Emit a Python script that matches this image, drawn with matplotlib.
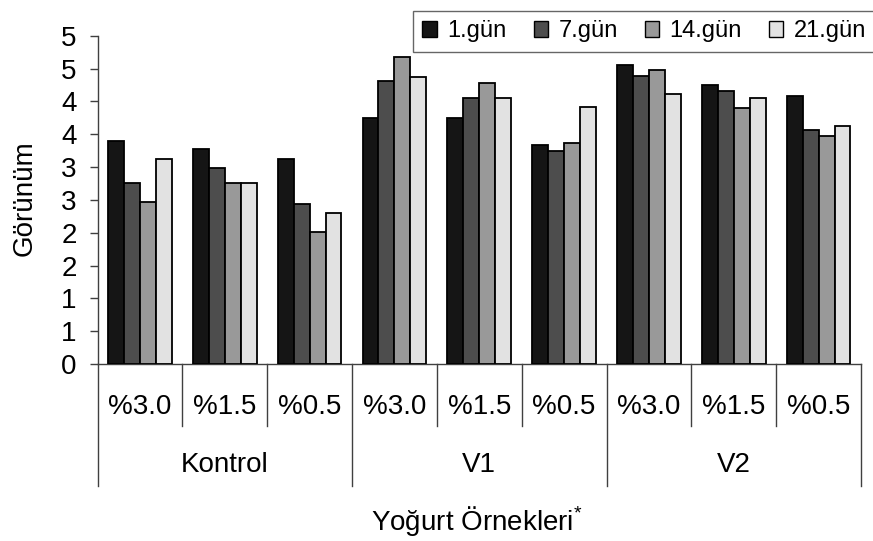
import matplotlib
matplotlib.use("Agg")
import matplotlib.pyplot as plt
from matplotlib.patches import Patch
from matplotlib.lines import Line2D
from matplotlib.ticker import FuncFormatter, MultipleLocator
import numpy as np

plt.rcParams['font.family'] = ['Liberation Sans', 'DejaVu Sans']
plt.rcParams['mathtext.fontset'] = 'custom'
plt.rcParams['mathtext.rm'] = 'Liberation Sans'

# Data
groups = ["Kontrol", "V1", "V2"]
fat_levels = ["%3.0", "%1.5", "%0.5"]
days = ["1.gün", "7.gün", "14.gün", "21.gün"]
gun1 = [3.39, 3.28, 3.12, 3.74, 3.74, 3.34, 4.55, 4.25, 4.08]
gun7 = [2.76, 2.99, 2.44, 4.31, 4.05, 3.25, 4.38, 4.16, 3.57]
gun14 = [2.47, 2.76, 2.01, 4.67, 4.28, 3.37, 4.47, 3.90, 3.47]
gun21 = [3.12, 2.76, 2.30, 4.37, 4.05, 3.92, 4.11, 4.05, 3.63]
series = [gun1, gun7, gun14, gun21]

fills = ["#151515", "#4d4d4d", "#999999", "#e2e2e2"]
line_col = "#404040"
FS = 20

W, H = 873, 541
fig = plt.figure(figsize=(W / 100, H / 100), dpi=100)
ax_l, ax_r, ax_t, ax_b = 97.5, 861, 35.7, 364
ax = fig.add_axes([ax_l / W, 1 - ax_b / H, (ax_r - ax_l) / W, (ax_b - ax_t) / H])

n_cat = len(groups) * len(fat_levels)
x = np.arange(n_cat)
bw = 0.188
for i, (vals, c) in enumerate(zip(series, fills)):
    ax.bar(x + (i - 1.5) * bw, vals, width=bw, color=c, edgecolor="black",
           linewidth=1.3, zorder=3)

ax.set_xlim(-0.5, n_cat - 0.5)
ax.set_ylim(0, 5)
ax.yaxis.set_major_locator(MultipleLocator(0.5))
ax.yaxis.set_major_formatter(FuncFormatter(lambda v, p: f"{int(np.floor(v + 0.5 + 1e-9))}"))
ax.tick_params(axis="y", direction="out", length=6, width=1, color=line_col,
               labelsize=FS, pad=9)
ax.set_xticks([])
for s in ["top", "right"]:
    ax.spines[s].set_visible(False)
for s in ["left", "bottom"]:
    ax.spines[s].set_color(line_col)
    ax.spines[s].set_linewidth(1)

# Two-level category axis drawn below the plot
ph = ax_b - ax_t
def fy(px):
    return (ax_b - px) / ph

trans = ax.get_xaxis_transform()
for k in range(n_cat + 1):
    xb = k - 0.5
    bottom = 486 if k % 3 == 0 else 426
    ax.add_line(Line2D([xb, xb], [0, fy(bottom)], transform=trans, color=line_col,
                       lw=1, clip_on=False))
for k in range(n_cat):
    ax.text(k, fy(407), fat_levels[k % 3], transform=trans, ha="center", va="center",
            fontsize=FS)
for g, name in enumerate(groups):
    ax.text(3 * g + 1, fy(465), name, transform=trans, ha="center", va="center",
            fontsize=FS)

fig.text(477 / W, 1 - 522 / H, r"Yoğurt Örnekleri$^{*}$", ha="center",
         va="center", fontsize=FS)
fig.text(25 / W, 1 - 198 / H, "Görünüm", rotation=90, ha="center", va="center",
         fontsize=FS)

handles = [Patch(facecolor=c, edgecolor="black", linewidth=1) for c in fills]
leg = fig.legend(handles, days, loc="upper left", bbox_to_anchor=(413 / W, 1 - 11 / H),
                 ncol=4, fontsize=17, frameon=True, fancybox=False, handlelength=0.6,
                 handleheight=0.66, handletextpad=0.45, columnspacing=1.15,
                 borderpad=0.4, borderaxespad=0)
leg.get_frame().set_edgecolor(line_col)
leg.get_frame().set_linewidth(1)

fig.savefig("out.png", dpi=100)
